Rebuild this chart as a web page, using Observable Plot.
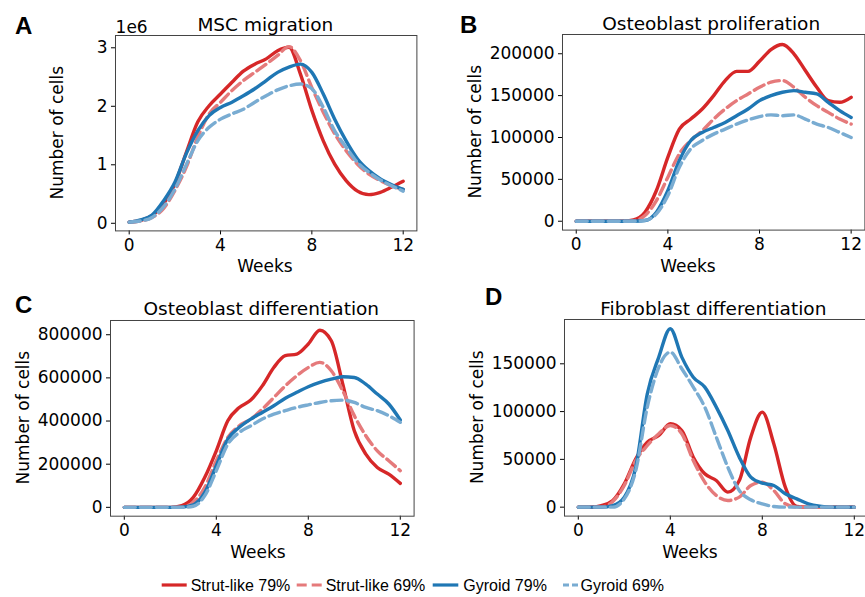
<!DOCTYPE html>
<html><head><meta charset="utf-8">
<script src="https://cdn.jsdelivr.net/npm/d3@7"></script>
<script src="https://cdn.jsdelivr.net/npm/@observablehq/plot@0.6"></script>
<style>
body{margin:0;background:#fff;}
#fig{position:relative;width:865px;height:597px;overflow:hidden;background:#fff;}
</style></head><body><div id="fig"></div>
<script>
// ---- data ----
const weeks = [0,0.5,1,1.5,2,2.5,3,3.5,4,4.5,5,5.5,6,6.5,7,7.5,8,8.5,9,9.5,10,10.5,11,11.5,12];
const seriesNames = ["Strut-like 79%","Strut-like 69%","Gyroid 79%","Gyroid 69%"];
const xTicks = [0,4,8,12];

// A: MSC migration (x 1e6 cells)
const mscStrut79  = [0.02,0.05,0.13,0.33,0.67,1.21,1.73,2.01,2.21,2.41,2.60,2.72,2.81,2.95,3.01,2.55,1.93,1.41,1.01,0.73,0.55,0.49,0.53,0.62,0.72];
const mscStrut69  = [0.02,0.04,0.10,0.25,0.56,0.96,1.47,1.87,2.07,2.27,2.44,2.58,2.72,2.87,3.02,2.78,2.32,1.90,1.53,1.24,1.01,0.84,0.73,0.64,0.58];
const mscGyroid79 = [0.02,0.06,0.14,0.38,0.70,1.19,1.58,1.84,1.98,2.07,2.18,2.30,2.44,2.58,2.67,2.72,2.58,2.21,1.78,1.41,1.10,0.90,0.76,0.66,0.58];
const mscGyroid69 = [0.02,0.04,0.10,0.28,0.58,1.00,1.41,1.64,1.78,1.87,1.95,2.07,2.18,2.28,2.35,2.38,2.30,1.98,1.58,1.30,1.04,0.87,0.74,0.64,0.55];
const mscTicks = [0,1,2,3];

// B: Osteoblast proliferation
const obpStrut79  = [0,0,0,0,0,1600,10800,36700,76500,110000,122000,134000,150000,168000,179000,179000,191000,205000,211000,200000,180000,160000,144000,142000,148000];
const obpStrut69  = [0,0,0,0,0,500,6800,24700,52600,80500,96400,108000,122000,134000,144000,152000,160000,166000,168000,160000,148000,138000,130000,122000,116000];
const obpGyroid79 = [0,0,0,0,0,0,800,10800,36700,72500,96400,106000,112000,118000,126000,134000,144000,150000,154000,156000,154000,152000,142000,132000,124000];
const obpGyroid69 = [0,0,0,0,0,0,1000,8800,30700,64500,86500,96400,104000,110000,116000,121000,125000,127000,126000,127000,122000,116000,112000,106000,100000];
const obpTicks = [0,50000,100000,150000,200000];

// C: Osteoblast differentiation
const obdStrut79  = [0,0,0,0,0,7700,46000,139000,262000,401000,463000,497000,563000,648000,703000,710000,757000,821000,772000,571000,355000,247000,185000,154000,111000];
const obdStrut69  = [0,0,0,0,0,2000,23000,93000,216000,324000,378000,409000,455000,509000,563000,610000,648000,672000,633000,540000,425000,332000,262000,216000,170000];
const obdGyroid79 = [0,0,0,0,0,1000,12000,69000,193000,316000,371000,409000,440000,471000,506000,533000,559000,579000,594000,605000,602000,571000,525000,479000,405000];
const obdGyroid69 = [0,0,0,0,0,0,5000,54000,170000,293000,347000,378000,409000,432000,448000,463000,475000,486000,494000,497000,486000,463000,448000,425000,394000];
const obdTicks = [0,200000,400000,600000,800000];

// D: Fibroblast differentiation
const fbdStrut79  = [0,0,1700,7000,24400,50600,68000,75000,87200,80200,52300,34900,27900,15700,27900,73300,99400,66300,20900,700,0,0,0,0,0];
const fbdStrut69  = [0,0,0,6000,22700,48800,64500,76800,85500,76800,48800,26200,12200,7000,10500,22700,26200,17400,3500,0,0,0,0,0,0];
const fbdGyroid79 = [0,0,0,1700,10500,41900,118600,157000,186700,157000,136000,125600,104700,80200,52300,31400,25100,22700,14000,8700,3500,1000,0,0,0];
const fbdGyroid69 = [0,0,0,0,8700,38400,104700,146500,162200,144800,125600,104700,73300,41900,17400,7700,3500,700,0,0,0,0,0,0,0];
const fbdTicks = [0,50000,100000,150000];

// ---- styles ----
const seriesColors = ["#d62728","#e57a7b","#1f77b4","#79acd2"];
const seriesDash = [null,"11,5",null,"11,5"];
const FONT = "DejaVu Sans, sans-serif";

const panels = [
  {letter:"A", title:"MSC migration", series:[mscStrut79,mscStrut69,mscGyroid79,mscGyroid69], yDomain:[-0.13,3.21], yTicks:mscTicks,
   frame:{l:114.6,r:416,t:35,b:230.4}, letterPos:[15,34], weeksX:265, exponent:"1e6"},
  {letter:"B", title:"Osteoblast proliferation", series:[obpStrut79,obpStrut69,obpGyroid79,obpGyroid69], yDomain:[-10600,223000], yTicks:obpTicks,
   frame:{l:562,r:864.4,t:34,b:229.6}, letterPos:[460,33], weeksX:688},
  {letter:"C", title:"Osteoblast differentiation", series:[obdStrut79,obdStrut69,obdGyroid79,obdGyroid69], yDomain:[-41000,866000], yTicks:obdTicks,
   frame:{l:109.5,r:413.1,t:319.8,b:515.5}, letterPos:[15,313], weeksX:258},
  {letter:"D", title:"Fibroblast differentiation", series:[fbdStrut79,fbdStrut69,fbdGyroid79,fbdGyroid69], yDomain:[-9350,196350], yTicks:fbdTicks,
   frame:{l:563.5,r:867.1,t:319,b:515.6}, letterPos:[485,305], weeksX:690}
];

const fig = document.getElementById("fig");
const ML=100, MR=20, MT=30, MB=50;

panels.forEach(p => {
  const f = p.frame;
  const lines = p.series.map((vals,i) => Plot.line(
    weeks.map((w,j) => ({week:w, value:vals[j], series:seriesNames[i]})),
    {x:"week", y:"value", stroke:seriesColors[i], strokeWidth:3.4, strokeDasharray:seriesDash[i] || undefined, curve:"monotone-x"}
  ));
  const chart = Plot.plot({
    width: (f.r-f.l)+ML+MR, height: (f.b-f.t)+MT+MB,
    marginLeft:ML, marginRight:MR, marginTop:MT, marginBottom:MB,
    style:{fontFamily:FONT, fontSize:"17px", color:"#000", background:"transparent", overflow:"visible"},
    x:{domain:[-0.6,12.6], ticks:xTicks, tickSize:4, tickPadding:4, tickFormat:d=>String(d), label:null},
    y:{domain:p.yDomain, ticks:p.yTicks, tickSize:4, tickPadding:4, tickFormat:d=>String(d), label:null},
    marks:[...lines, Plot.frame({stroke:"#444", strokeWidth:1})]
  });
  chart.style.position = "absolute";
  chart.style.left = (f.l-ML)+"px";
  chart.style.top = (f.t-MT)+"px";
  fig.appendChild(chart);
});

// ---- overlay text: panel letters, titles, axis labels, legend ----
const ov = d3.select(fig).append("svg")
  .attr("width",865).attr("height",597)
  .style("position","absolute").style("left","0px").style("top","0px")
  .style("pointer-events","none");

panels.forEach(p => {
  const f = p.frame;
  ov.append("text").attr("x",p.letterPos[0]).attr("y",p.letterPos[1])
    .attr("font-family","Liberation Sans, Arial, sans-serif").attr("font-weight","bold").attr("font-size",24).text(p.letter);
  ov.append("text").attr("x",(f.l+f.r)/2 - (p.letter==="B"||p.letter==="D"?2:0)).attr("y",f.t-4.5)
    .attr("text-anchor","middle").attr("font-family",FONT).attr("font-size",18.5).text(p.title);
  ov.append("text").attr("x",p.weeksX).attr("y",f.b+42)
    .attr("text-anchor","middle").attr("font-family",FONT).attr("font-size",17).text("Weeks");
  const lx = f.l - (p.letter==="A" ? 52 : 81);
  ov.append("text").attr("transform",`translate(${lx},${(f.t+f.b)/2}) rotate(-90)`)
    .attr("text-anchor","middle").attr("font-family",FONT).attr("font-size",17).text("Number of cells");
  if (p.exponent) {
    ov.append("text").attr("x",f.l+1).attr("y",f.t-2.5)
      .attr("font-family",FONT).attr("font-size",17).text(p.exponent);
  }
});

// legend
const legendItems = [
  {x1:161.7, x2:186.7, tx:190.7},
  {x1:296.7, x2:321.7, tx:325.7},
  {x1:432.7, x2:458.3, tx:463.3},
  {x1:563,   x2:578,   tx:580.5}
];
legendItems.forEach((it,i) => {
  ov.append("line").attr("x1",it.x1).attr("x2",it.x2).attr("y1",585).attr("y2",585)
    .attr("stroke",seriesColors[i]).attr("stroke-width",3.2)
    .attr("stroke-dasharray", seriesDash[i] ? (i===3 ? "6,3" : "10,5") : null);
  ov.append("text").attr("x",it.tx).attr("y",591)
    .attr("font-family","Liberation Sans, Arial, sans-serif").attr("font-size",16).text(seriesNames[i]);
});
</script>
</body></html>
